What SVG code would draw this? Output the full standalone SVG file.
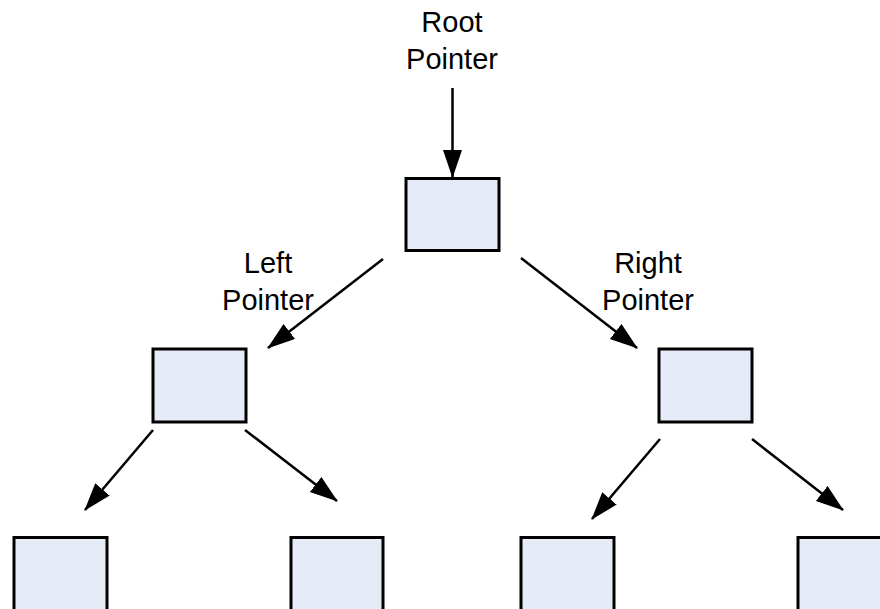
<svg xmlns="http://www.w3.org/2000/svg" width="880" height="609" viewBox="0 0 880 609">
  <style>
    .node { fill: #E5ECF7; stroke: #000; stroke-width: 3; }
    .edge { stroke: #000; stroke-width: 2.5; fill: none; marker-end: url(#arrow); }
    .label { font-family: "Liberation Sans", Arial, sans-serif; font-size: 29px; fill: #000; text-anchor: middle; }
  </style>
  <defs>
    <marker id="arrow" markerUnits="userSpaceOnUse" markerWidth="28" markerHeight="20" refX="27" refY="9.5" orient="auto">
      <path d="M0,0 L28,9.5 L0,19 Z" fill="#000"/>
    </marker>
  </defs>
  <rect width="880" height="609" fill="#fff"/>

  <!-- labels -->
  <g id="label-root">
    <text class="label" x="452" y="32">Root</text>
    <text class="label" x="452" y="69">Pointer</text>
  </g>
  <g id="label-left">
    <text class="label" x="268" y="273">Left</text>
    <text class="label" x="268" y="310">Pointer</text>
  </g>
  <g id="label-right">
    <text class="label" x="648" y="273">Right</text>
    <text class="label" x="648" y="310">Pointer</text>
  </g>

  <!-- tree nodes -->
  <g id="root"><rect class="node" x="406" y="178.5" width="93" height="72"/></g>
  <g id="left"><rect class="node" x="153" y="349" width="93" height="73"/></g>
  <g id="right"><rect class="node" x="659" y="349" width="93" height="73"/></g>
  <g id="left-left"><rect class="node" x="14" y="537.5" width="93" height="74"/></g>
  <g id="left-right"><rect class="node" x="291" y="537.5" width="92" height="74"/></g>
  <g id="right-left"><rect class="node" x="521" y="537.5" width="93" height="74"/></g>
  <g id="right-right"><rect class="node" x="798" y="537.5" width="93" height="74"/></g>

  <!-- connectors -->
  <g id="connectors">
    <line class="edge" x1="452.5" y1="88" x2="452.5" y2="177"/>
    <line class="edge" x1="383" y1="259" x2="268" y2="348"/>
    <line class="edge" x1="521" y1="258" x2="637" y2="348"/>
    <line class="edge" x1="153" y1="430" x2="85" y2="510"/>
    <line class="edge" x1="245" y1="430" x2="337" y2="501"/>
    <line class="edge" x1="660" y1="439" x2="592" y2="519"/>
    <line class="edge" x1="752" y1="439" x2="843" y2="510"/>
  </g>
</svg>
